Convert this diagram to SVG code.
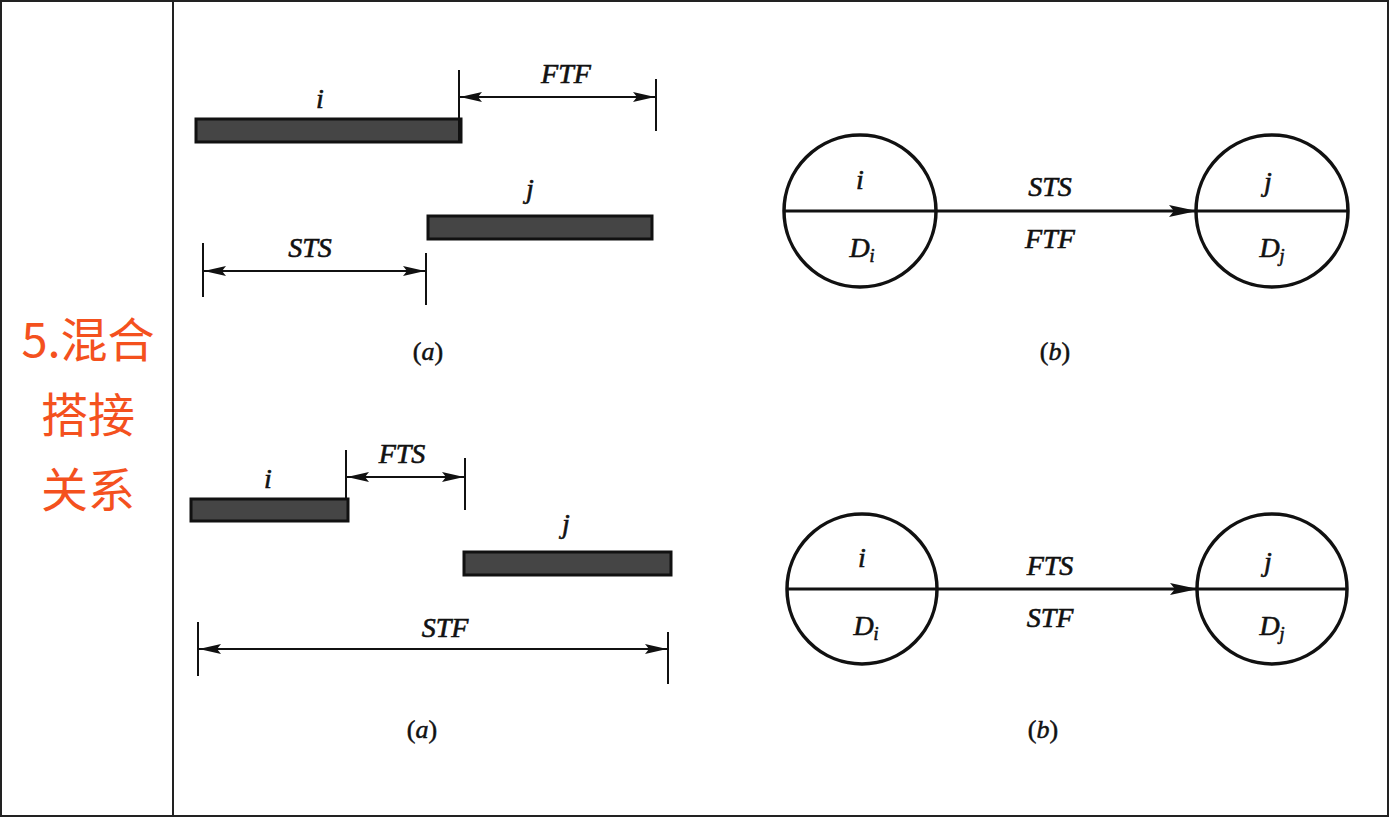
<svg xmlns="http://www.w3.org/2000/svg" width="1390" height="818" viewBox="0 0 1390 818">
<style>
.t{font-family:"Liberation Serif",serif;font-style:italic;font-size:28px;fill:#111;stroke:#111;stroke-width:0.6;text-anchor:middle}
.c{font-family:"Liberation Serif",serif;font-size:26px;fill:#111;stroke:#111;stroke-width:0.5;text-anchor:middle}
.bar{fill:#454545;stroke:#111;stroke-width:3}
.tick{stroke:#111;stroke-width:2}
.dim{stroke:#111;stroke-width:2;fill:none;marker-start:url(#ah);marker-end:url(#ah)}
.node{fill:#fff;stroke:#111;stroke-width:3.5}
.link{stroke:#111;stroke-width:3;fill:none;marker-end:url(#ah2)}
.zh{font-family:"Noto Sans CJK SC","Noto Sans",sans-serif;font-size:47px;fill:#F4511E;text-anchor:middle}
</style>
<defs>
<marker id="ah" viewBox="0 0 22 10" refX="22" refY="5" markerWidth="22" markerHeight="10" markerUnits="userSpaceOnUse" orient="auto-start-reverse"><path d="M0,0 L22,5 L0,10 L4,5 Z" fill="#111"/></marker>
<marker id="ah2" viewBox="0 0 28 12" refX="28" refY="6" markerWidth="28" markerHeight="12" markerUnits="userSpaceOnUse" orient="auto"><path d="M0,0 L28,6 L0,12 L5,6 Z" fill="#111"/></marker>
</defs>
<rect x="0" y="0" width="1390" height="818" fill="#fff"/>
<rect x="1" y="1" width="1387" height="815" fill="none" stroke="#222" stroke-width="2"/>
<line x1="173" y1="1" x2="173" y2="816" stroke="#222" stroke-width="2"/>
<g id="title">
<text class="zh" x="88" y="357">5.混合</text>
<text class="zh" x="88" y="432">搭接</text>
<text class="zh" x="88" y="507">关系</text>
</g>
<g id="top-a">
<g id="bar-i1"><rect class="bar" x="196" y="119" width="265" height="23"/><text class="t" x="320" y="108">i</text></g>
<g id="bar-j1"><rect class="bar" x="428" y="216" width="224" height="23"/><text class="t" x="530" y="198">j</text></g>
<g id="ftf1">
<line class="tick" x1="459" y1="70" x2="459" y2="142"/>
<line class="tick" x1="656" y1="79" x2="656" y2="131"/>
<line class="dim" x1="460" y1="97" x2="655" y2="97"/>
<text class="t" x="566" y="83">FTF</text>
</g>
<g id="sts1">
<line class="tick" x1="203" y1="243" x2="203" y2="297"/>
<line class="tick" x1="426" y1="253" x2="426" y2="305"/>
<line class="dim" x1="204" y1="271" x2="425" y2="271"/>
<text class="t" x="310" y="257">STS</text>
</g>
<text class="c" x="428" y="360">(<tspan font-style="italic">a</tspan>)</text>
</g>
<g id="top-b">
<g id="node-i1"><circle class="node" cx="860" cy="211" r="76"/><text class="t" x="860" y="189">i</text><text class="t" x="862" y="257">D<tspan font-size="18" dy="5">i</tspan></text></g>
<g id="node-j1"><circle class="node" cx="1272" cy="211" r="76"/><text class="t" x="1268" y="191">j</text><text class="t" x="1272" y="257">D<tspan font-size="18" dy="5">j</tspan></text></g>
<g id="connectors1">
<line class="link" x1="784" y1="211" x2="1197" y2="211"/>
<line stroke="#111" stroke-width="3" x1="1196" y1="211" x2="1348" y2="211"/>
</g>
<text class="t" x="1050" y="196">STS</text>
<text class="t" x="1050" y="248">FTF</text>
<text class="c" x="1055" y="360">(<tspan font-style="italic">b</tspan>)</text>
</g>
<g id="bottom-a">
<g id="bar-i2"><rect class="bar" x="191" y="499" width="157" height="22"/><text class="t" x="268" y="488">i</text></g>
<g id="bar-j2"><rect class="bar" x="464" y="552" width="207" height="23"/><text class="t" x="566" y="533">j</text></g>
<g id="fts2">
<line class="tick" x1="346" y1="450" x2="346" y2="500"/>
<line class="tick" x1="465" y1="458" x2="465" y2="510"/>
<line class="dim" x1="347" y1="477" x2="464" y2="477"/>
<text class="t" x="402" y="463">FTS</text>
</g>
<g id="stf2">
<line class="tick" x1="198" y1="622" x2="198" y2="676"/>
<line class="tick" x1="668" y1="632" x2="668" y2="684"/>
<line class="dim" x1="199" y1="649" x2="667" y2="649"/>
<text class="t" x="445" y="637">STF</text>
</g>
<text class="c" x="422" y="738">(<tspan font-style="italic">a</tspan>)</text>
</g>
<g id="bottom-b">
<g id="node-i2"><circle class="node" cx="862" cy="589" r="75"/><text class="t" x="862" y="567">i</text><text class="t" x="866" y="635">D<tspan font-size="18" dy="5">i</tspan></text></g>
<g id="node-j2"><circle class="node" cx="1272" cy="589" r="75"/><text class="t" x="1268" y="571">j</text><text class="t" x="1272" y="635">D<tspan font-size="18" dy="5">j</tspan></text></g>
<g id="connectors2">
<line class="link" x1="787" y1="589" x2="1198" y2="589"/>
<line stroke="#111" stroke-width="3" x1="1197" y1="589" x2="1347" y2="589"/>
</g>
<text class="t" x="1050" y="575">FTS</text>
<text class="t" x="1050" y="627">STF</text>
<text class="c" x="1043" y="738">(<tspan font-style="italic">b</tspan>)</text>
</g>
</svg>
